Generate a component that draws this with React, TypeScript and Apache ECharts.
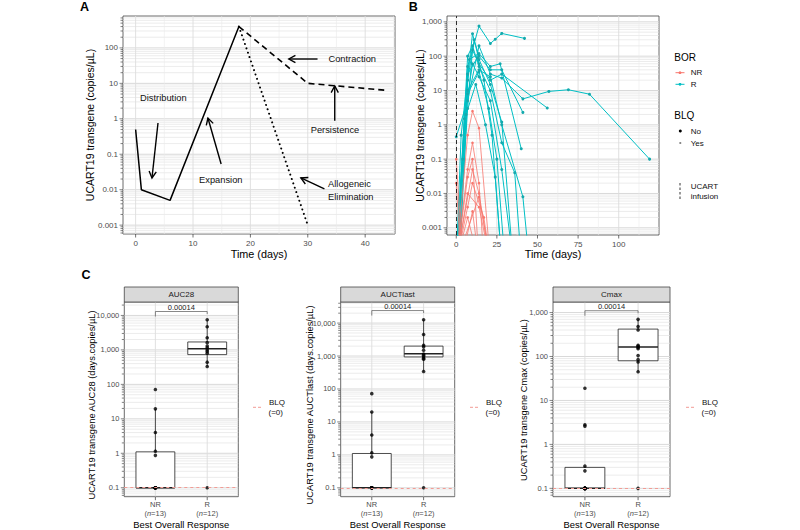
import React, { useEffect, useRef } from 'react';
import * as echarts from 'echarts';

const FONT = '"Liberation Sans", Arial, Helvetica, sans-serif';
const TEAL = '#00BFC4';
const SALMON = '#F8766D';

// ---------------- Panel A (schematic) ----------------
const schematicSolid = [[0, 0.5], [1, 0.01], [6, 0.005], [18, 400]];
const schematicDashed = [[18, 400], [30, 10], [44, 6.3]];
const schematicDotted = [[18, 400], [30, 0.001]];
// arrows: [fromX, fromY, toX, toY] in data units
const phaseArrows = [
  [3.9, 0.76, 2.85, 0.0214],
  [14.9, 0.053, 12.6, 1.05],
  [31.7, 48.6, 26.7, 48.6],
  [34.7, 0.885, 34.7, 8.4],
  [32.9, 0.0105, 28.8, 0.0214],
];
const phaseLabels = ['Distribution', 'Expansion', 'Contraction', 'Persistence', 'Allogeneic', 'Elimination'];
const xTicksA = [0, 10, 20, 30, 40];
const xMinorA = [5, 15, 25, 35, 45];
const yTicksA = [0.001, 0.01, 0.1, 1, 10, 100];
const yLabelsA = ['0.001', '0.01', '0.1', '1', '10', '100'];

// ---------------- Panel B (patients) ----------------
const B = 0.0001; // BLQ samples (below the plotted range)
const responders = [
  [[0, B], [7, 50], [14, 750], [21, 235], [24, 310], [28, 460], [42, 330]],
  [[0, B], [3, 0.5], [10, 450], [14, 80], [21, 15], [28, 1.2], [35, B]],
  [[0, 0.45], [7, 5], [14, 200], [21, 30], [28, 23], [41, 5.7], [57, 9.4], [69, 10.5], [82, 7.8], [119, 0.1]],
  [[1, B], [7, 3], [10, 150], [14, 60], [21, 20], [28, 30], [56, 3.1]],
  [[0, B], [7, 20], [11, 300], [14, 100], [21, 40], [28, 40], [41, 2.3]],
  [[0, B], [4, 0.1], [8, 80], [14, 120], [21, 50], [27, 60], [40, 0.2]],
  [[1, B], [7, 10], [14, 40], [21, 25], [28, 1], [41, 0.008], [45, B]],
  [[0, B], [5, 1.5], [10, 60], [14, 25], [21, 5], [28, 0.05], [35, B]],
  [[0, B], [7, 30], [13, 90], [17, 20], [22, 0.5], [28, B]],
  [[2, B], [7, 8], [14, 35], [20, 3], [25, 0.1], [30, B]],
  [[0, B], [6, 2], [12, 15], [18, 1], [24, 0.03], [28, B]],
  [[0, B], [7, 100], [10, 200], [14, 50], [21, 10], [28, 0.3], [36, 0.04], [40, B]],
];
const nonResponders = [
  [[0, B], [7, 0.5], [10, 2.5], [14, 0.8], [21, B]],
  [[0, B], [7, 0.05], [10, 0.3], [14, 0.02], [17, B]],
  [[0, B], [7, 0.01], [14, 0.004], [21, B]],
  [[0, 0.02], [3, B], [10, 0.003], [14, B]],
  [[0, B], [10, 0.05], [14, 0.01], [21, B]],
  [[0, B], [7, 0.002], [14, B]],
  [[0, 0.1], [4, B]],
  [[0, B], [14, 0.008], [21, B]],
  [[0, B], [7, 0.03], [10, 0.1], [14, B]],
  [[0, B], [7, 0.004], [10, 0.02], [17, 0.002], [21, B]],
  [[0, B], [7, B], [14, B], [28, B]],
  [[0, B], [7, B], [14, B], [28, B]],
  [[0, B], [7, B], [14, B], [28, B]],
];
const xTicksB = [0, 25, 50, 75, 100];
const xMinorB = [12.5, 37.5, 62.5, 87.5, 112.5];
const yTicksB = [0.001, 0.01, 0.1, 1, 10, 100, 1000];
const yLabelsB = ['0.001', '0.01', '0.1', '1', '10', '100', '1,000'];

// ---------------- Panel C (box plots) ----------------
const categories = ['NR', 'R'];
const groupN = [13, 12];
const facetNames = ['AUC28', 'AUCTlast', 'Cmax'];
const auc28NR = [71, 19.5, 4, 1.15, 0.87, 0.1, 0.1, 0.1, 0.1, 0.1, 0.1, 0.1, 0.1];
const auc28R = [7500, 4700, 2250, 1620, 1300, 1150, 1000, 900, 800, 440, 330, 0.1];
const auctlastNR = [72, 20, 4, 1.15, 0.87, 0.1, 0.1, 0.1, 0.1, 0.1, 0.1, 0.1, 0.1];
const auctlastR = [12600, 4500, 2100, 1900, 1500, 1150, 1050, 950, 850, 800, 340, 0.1];
const cmaxNR = [19, 2.8, 2.6, 0.32, 0.25, 0.1, 0.1, 0.1, 0.1, 0.1, 0.1, 0.1, 0.1];
const cmaxR = [700, 480, 400, 180, 170, 160, 150, 105, 85, 75, 45, 0.1];
// [lowerWhisker, Q1, median, Q3, upperWhisker]
const auc28Box = [[0.1, 0.1, 0.1, 1.1, 19.5], [330, 730, 1080, 1700, 7500]];
const auctlastBox = [[0.1, 0.1, 0.1, 1.1, 20], [340, 940, 1180, 2000, 12600]];
const cmaxBox = [[0.1, 0.1, 0.1, 0.3, 0.32], [45, 80, 165, 420, 700]];
const pValues = ['0.00014', '0.00014', '0.00014'];
const bracketY = [13000, 24000, 1100];
const blqValue = 0.1;
const yTicksC12 = [0.1, 1, 10, 100, 1000, 10000];
const yLabelsC12 = ['0.1', '1', '10', '100', '1,000', '10,000'];
const yTicksC3 = [0.1, 1, 10, 100, 1000];
const yLabelsC3 = ['0.1', '1', '10', '100', '1,000'];

// ---------------- helpers ----------------
function logMinors(min: number, max: number) {
  const out: number[] = [];
  for (let k = Math.floor(Math.log10(min)); k <= Math.ceil(Math.log10(max)); k++) {
    for (let m = 2; m <= 9; m++) {
      const v = m * Math.pow(10, k);
      if (v > min && v < max) out.push(v);
    }
  }
  return out;
}

function logFmt(ticks: number[], labels: string[]) {
  return (v: number) => {
    const lv = Math.log10(v);
    for (let i = 0; i < ticks.length; i++) {
      if (Math.abs(Math.log10(ticks[i]) - lv) < 1e-6) return labels[i];
    }
    return '';
  };
}

function guideSeries(idx: number, x0: number, yAny: number, hMajor: number[], hMinor: number[], vMajor: number[], vMinor: number[]) {
  const data = [
    ...hMajor.map((v) => [x0, v, 0]),
    ...hMinor.map((v) => [x0, v, 1]),
    ...vMajor.map((v) => [v, yAny, 2]),
    ...vMinor.map((v) => [v, yAny, 3]),
  ];
  return {
    type: 'custom',
    xAxisIndex: idx,
    yAxisIndex: idx,
    z: 1,
    silent: true,
    clip: false,
    data,
    renderItem: (params: any, api: any) => {
      const cs = params.coordSys;
      const kind = api.value(2);
      const p = api.coord([api.value(0), api.value(1)]);
      if (kind < 2) {
        const y = p[1];
        return {
          type: 'group',
          children: [
            { type: 'line', shape: { x1: cs.x, y1: y, x2: cs.x + cs.width, y2: y }, style: { stroke: kind === 0 ? '#d9d9d9' : '#e4e4e4', lineWidth: kind === 0 ? 1 : 0.7 } },
            { type: 'line', shape: { x1: cs.x - (kind === 0 ? 3.5 : 2.5), y1: y, x2: cs.x, y2: y }, style: { stroke: '#333', lineWidth: 0.6 } },
          ],
        };
      }
      const x = p[0];
      const bottom = cs.y + cs.height;
      const kids: any[] = [
        { type: 'line', shape: { x1: x, y1: cs.y, x2: x, y2: bottom }, style: { stroke: kind === 2 ? '#dcdcdc' : '#ebebeb', lineWidth: kind === 2 ? 0.9 : 0.6 } },
      ];
      if (kind === 2) kids.push({ type: 'line', shape: { x1: x, y1: bottom, x2: x, y2: bottom + 3.5 }, style: { stroke: '#333', lineWidth: 0.7 } });
      return { type: 'group', children: kids };
    },
  };
}

function gridBox(left: number, top: number, width: number, height: number) {
  return { left, top, width, height, show: true, borderColor: '#444', borderWidth: 0.8, backgroundColor: '#fff', containLabel: false, outerBoundsMode: 'none' };
}

function linearX(idx: number, min: number, max: number, ticks: number[]) {
  return {
    type: 'value', gridIndex: idx, min, max,
    axisLine: { show: false }, axisTick: { show: false }, splitLine: { show: false }, minorSplitLine: { show: false },
    axisLabel: { customValues: ticks, color: '#4d4d4d', fontSize: 8, margin: 5, fontFamily: FONT },
  };
}

function logY(idx: number, min: number, max: number, ticks: number[], labels: string[], fontSize: number) {
  return {
    type: 'log', logBase: 10, gridIndex: idx, min, max,
    axisLine: { show: false }, axisTick: { show: false }, splitLine: { show: false },
    axisLabel: { customValues: ticks, formatter: logFmt(ticks, labels), color: '#4d4d4d', fontSize, margin: 5, fontFamily: FONT },
  };
}

function catX(idx: number) {
  return {
    type: 'value', gridIndex: idx, min: 0.4, max: 2.6,
    axisLine: { show: false }, axisTick: { show: false }, splitLine: { show: false },
    axisLabel: {
      customValues: [1, 2],
      formatter: (v: number) => {
        const i = Math.round(v) - 1;
        return `${categories[i]}\n({it|n}=${groupN[i]})`;
      },
      color: '#4d4d4d', fontSize: 7.5, lineHeight: 8.5, margin: 4, fontFamily: FONT,
      rich: { it: { fontStyle: 'italic', fontSize: 7.5, lineHeight: 8.5, color: '#4d4d4d', fontFamily: FONT } },
    },
  };
}

function boxSeries(idx: number, boxes: number[][]) {
  return {
    type: 'custom', xAxisIndex: idx, yAxisIndex: idx, z: 2, silent: true, clip: false,
    data: boxes.map((b, i) => [i + 1, ...b]),
    renderItem: (params: any, api: any) => {
      const x = api.value(0);
      const v = [1, 2, 3, 4, 5].map((d) => api.value(d));
      const c = v.map((val) => api.coord([x, val]));
      const xl = api.coord([x - 0.375, v[1]])[0];
      const xr = api.coord([x + 0.375, v[1]])[0];
      const xc = c[0][0];
      const st = { stroke: '#222', lineWidth: 0.8, fill: 'none' };
      return {
        type: 'group',
        children: [
          { type: 'line', shape: { x1: xc, y1: c[0][1], x2: xc, y2: c[1][1] }, style: st },
          { type: 'line', shape: { x1: xc, y1: c[3][1], x2: xc, y2: c[4][1] }, style: st },
          { type: 'rect', shape: { x: xl, y: c[3][1], width: xr - xl, height: c[1][1] - c[3][1] }, style: { stroke: '#222', lineWidth: 0.8, fill: '#fff' } },
          { type: 'line', shape: { x1: xl, y1: c[2][1], x2: xr, y2: c[2][1] }, style: { stroke: '#222', lineWidth: 1.5 } },
        ],
      };
    },
  };
}

function pointsSeries(idx: number, nr: number[], r: number[]) {
  return {
    type: 'scatter', xAxisIndex: idx, yAxisIndex: idx, z: 4, silent: true,
    symbol: 'circle', symbolSize: 3.6, itemStyle: { color: '#000' },
    data: [...nr.map((v) => [1, v]), ...r.map((v) => [2, v])],
    markLine: {
      silent: true, symbol: ['none', 'none'], label: { show: false },
      lineStyle: { color: '#f29c95', type: [3, 3], width: 1 },
      data: [{ yAxis: blqValue }],
    },
  };
}

function bracketSeries(idx: number, y: number, label: string) {
  return {
    type: 'custom', xAxisIndex: idx, yAxisIndex: idx, z: 3, silent: true, clip: false,
    data: [[1, y, 2]],
    renderItem: (params: any, api: any) => {
      const p1 = api.coord([api.value(0), api.value(1)]);
      const p2 = api.coord([api.value(2), api.value(1)]);
      return {
        type: 'group',
        children: [
          { type: 'polyline', shape: { points: [[p1[0], p1[1] + 5], [p1[0], p1[1]], [p2[0], p2[1]], [p2[0], p2[1] + 2.5]] }, style: { stroke: '#555', lineWidth: 0.7, fill: 'none' } },
          { type: 'text', x: (p1[0] + p2[0]) / 2, y: p1[1] - 0.5, style: { text: label, fontSize: 7.5, fill: '#222', align: 'center', verticalAlign: 'bottom', fontFamily: FONT } },
        ],
      };
    },
  };
}

const txt = (text: string, x: number, y: number, style: any = {}, rotation = 0) => ({
  type: 'text', x, y, rotation, silent: true, z: 10,
  style: { text, fontFamily: FONT, fontSize: 9, fill: '#111', align: 'center', verticalAlign: 'middle', ...style },
});
const seg = (x1: number, y1: number, x2: number, y2: number, stroke: string, lineWidth = 1, lineDash?: number[]) => ({
  type: 'line', silent: true, z: 10, shape: { x1, y1, x2, y2 }, style: { stroke, lineWidth, lineDash },
});

export default function App() {
  const ref = useRef<HTMLDivElement>(null);
  useEffect(() => {
    if (!ref.current) return;
    const chart = echarts.init(ref.current, undefined, { renderer: 'svg' });

    const yA: [number, number] = [Math.pow(10, -3.25), Math.pow(10, 2.9)];
    const yB: [number, number] = [Math.pow(10, -3.21), Math.pow(10, 3.17)];
    const yC1: [number, number] = [Math.pow(10, -1.26), Math.pow(10, 4.39)];
    const yC2: [number, number] = [Math.pow(10, -1.27), Math.pow(10, 4.64)];
    const yC3: [number, number] = [Math.pow(10, -1.19), Math.pow(10, 3.24)];

    const series: any[] = [
      guideSeries(0, -2.2, 1, yTicksA, logMinors(yA[0], yA[1]), xTicksA, xMinorA),
      guideSeries(1, -5.7, 1, yTicksB, logMinors(yB[0], yB[1]), xTicksB, xMinorB),
      guideSeries(2, 0.4, 1, yTicksC12, logMinors(yC1[0], yC1[1]), [1, 2], []),
      guideSeries(3, 0.4, 1, yTicksC12, logMinors(yC2[0], yC2[1]), [1, 2], []),
      guideSeries(4, 0.4, 1, yTicksC3, logMinors(yC3[0], yC3[1]), [1, 2], []),
      // Panel A
      { type: 'line', xAxisIndex: 0, yAxisIndex: 0, data: schematicSolid, symbol: 'none', z: 3, lineStyle: { color: '#000', width: 1.5 } },
      { type: 'line', xAxisIndex: 0, yAxisIndex: 0, data: schematicDashed, symbol: 'none', z: 3, lineStyle: { color: '#000', width: 1.6, type: [6, 4] } },
      { type: 'line', xAxisIndex: 0, yAxisIndex: 0, data: schematicDotted, symbol: 'none', z: 3, lineStyle: { color: '#000', width: 2, type: [0.01, 4.6], cap: 'round' } },
      {
        type: 'custom', xAxisIndex: 0, yAxisIndex: 0, z: 4, silent: true, clip: false,
        data: phaseArrows,
        renderItem: (params: any, api: any) => {
          const p1 = api.coord([api.value(0), api.value(1)]);
          const p2 = api.coord([api.value(2), api.value(3)]);
          const a = Math.atan2(p2[1] - p1[1], p2[0] - p1[0]);
          const L = 7.5;
          const h1 = [p2[0] - L * Math.cos(a - 0.5), p2[1] - L * Math.sin(a - 0.5)];
          const h2 = [p2[0] - L * Math.cos(a + 0.5), p2[1] - L * Math.sin(a + 0.5)];
          return {
            type: 'group',
            children: [
              { type: 'line', shape: { x1: p1[0], y1: p1[1], x2: p2[0], y2: p2[1] }, style: { stroke: '#000', lineWidth: 1.4 } },
              { type: 'polyline', shape: { points: [h1, p2, h2] }, style: { stroke: '#000', lineWidth: 1.4, fill: 'none' } },
            ],
          };
        },
      },
    ];

    // Panel B patient lines
    responders.forEach((pts, i) => {
      const s: any = {
        type: 'line', xAxisIndex: 1, yAxisIndex: 1, data: pts, z: 3, clip: true,
        symbol: 'circle', symbolSize: 3, showSymbol: true,
        lineStyle: { color: TEAL, width: 1 }, itemStyle: { color: '#14a9ad' },
      };
      if (i === 0) {
        s.markLine = {
          silent: true, symbol: ['none', 'none'], label: { show: false },
          lineStyle: { color: '#000', type: [4, 3], width: 0.8 },
          data: [{ xAxis: 0 }],
        };
      }
      series.push(s);
    });
    nonResponders.forEach((pts) => {
      series.push({
        type: 'line', xAxisIndex: 1, yAxisIndex: 1, data: pts, z: 4, clip: true,
        symbol: 'circle', symbolSize: 2.6, showSymbol: true,
        lineStyle: { color: SALMON, width: 0.8 }, itemStyle: { color: SALMON },
      });
    });

    // Panel C
    const boxes = [auc28Box, auctlastBox, cmaxBox];
    const pts = [[auc28NR, auc28R], [auctlastNR, auctlastR], [cmaxNR, cmaxR]];
    for (let f = 0; f < 3; f++) {
      series.push(boxSeries(2 + f, boxes[f]));
      series.push(pointsSeries(2 + f, pts[f][0], pts[f][1]));
      series.push(bracketSeries(2 + f, bracketY[f], pValues[f]));
    }

    const strips = [
      { x: 124.3, w: 114 },
      { x: 340.7, w: 114 },
      { x: 553, w: 117 },
    ];

    const graphic: any[] = [
      txt('A', 84.5, 7, { fontSize: 12.5, fontWeight: 'bold', fill: '#000' }),
      txt('B', 413.3, 7, { fontSize: 12.5, fontWeight: 'bold', fill: '#000' }),
      txt('C', 86, 275, { fontSize: 12.5, fontWeight: 'bold', fill: '#000' }),
      txt('UCART19 transgene (copies/µL)', 90, 125, { fontSize: 10.5, fill: '#000' }, Math.PI / 2),
      txt('Time (days)', 259, 253.5, { fontSize: 10.8, fill: '#000' }),
      txt('UCART19 transgene (copies/µL)', 420, 125.5, { fontSize: 10.5, fill: '#000' }, Math.PI / 2),
      txt('Time (days)', 553, 253.5, { fontSize: 10.8, fill: '#000' }),
      // phase labels in panel A
      txt(phaseLabels[0], 163.3, 98.3, { fontSize: 9.3, fill: '#111' }),
      txt(phaseLabels[1], 220.8, 180, { fontSize: 9.3, fill: '#111' }),
      txt(phaseLabels[2], 352.2, 59, { fontSize: 9.3, fill: '#111' }),
      txt(phaseLabels[3], 335, 130, { fontSize: 9.3, fill: '#111' }),
      txt(phaseLabels[4], 349.5, 184.3, { fontSize: 9.3, fill: '#111' }),
      txt(phaseLabels[5], 350.8, 196.7, { fontSize: 9.3, fill: '#111' }),
      // legend B
      txt('BOR', 674.3, 57, { fontSize: 10, align: 'left', fill: '#000' }),
      seg(675.5, 72.7, 684.5, 72.7, SALMON, 1),
      { type: 'circle', silent: true, z: 10, shape: { cx: 680, cy: 72.7, r: 1.4 }, style: { fill: SALMON } },
      txt('NR', 690.7, 72.7, { fontSize: 8, align: 'left' }),
      seg(675.5, 84.3, 684.5, 84.3, TEAL, 1),
      { type: 'circle', silent: true, z: 10, shape: { cx: 680, cy: 84.3, r: 1.4 }, style: { fill: TEAL } },
      txt('R', 690.7, 84.3, { fontSize: 8, align: 'left' }),
      txt('BLQ', 674.3, 115.7, { fontSize: 10, align: 'left', fill: '#000' }),
      { type: 'circle', silent: true, z: 10, shape: { cx: 680.3, cy: 131, r: 1.5 }, style: { fill: '#000' } },
      txt('No', 690.7, 131, { fontSize: 8, align: 'left' }),
      { type: 'circle', silent: true, z: 10, shape: { cx: 680.3, cy: 143, r: 1.1 }, style: { fill: '#888' } },
      txt('Yes', 690.7, 143, { fontSize: 8, align: 'left' }),
      seg(680, 183, 680, 199, '#000', 0.8, [2.5, 2]),
      txt('UCART', 690.7, 186.7, { fontSize: 8, align: 'left' }),
      txt('infusion', 690.7, 196, { fontSize: 8, align: 'left' }),
    ];

    const cTitles = ['UCART19 transgene AUC28 (days.copies/µL)', 'UCART19 transgene AUCTlast (days.copies/µL)', 'UCART19 transgene Cmax (copies/µL)'];
    const cTitleX = [92, 310, 524];
    const cTitleY = [405, 405, 400];
    const legendDashX = [253, 470, 686];
    strips.forEach((s, f) => {
      graphic.push({ type: 'rect', silent: true, z: 9, shape: { x: s.x, y: 287, width: s.w, height: 15 }, style: { fill: '#d9d9d9', stroke: '#444', lineWidth: 0.8 } });
      graphic.push(txt(facetNames[f], s.x + s.w / 2, 294.5, { fontSize: 8, fill: '#1a1a1a' }));
      graphic.push(txt(cTitles[f], cTitleX[f], cTitleY[f], { fontSize: 9.3, fill: '#000' }, Math.PI / 2));
      graphic.push(txt('Best Overall Response', s.x + s.w / 2, 524, { fontSize: 9.4, fill: '#000' }));
      graphic.push(seg(legendDashX[f], 407.3, legendDashX[f] + 9, 407.3, '#f29c95', 1, [3, 2]));
      graphic.push(txt('BLQ', legendDashX[f] + 16, 402.7, { fontSize: 8, align: 'left' }));
      graphic.push(txt('(=0)', legendDashX[f] + 15.5, 412.7, { fontSize: 8, align: 'left' }));
    });

    const option: any = {
      animation: false,
      backgroundColor: '#fff',
      textStyle: { fontFamily: FONT },
      grid: [
        gridBox(123, 16, 272, 218),
        gridBox(447, 16, 212, 219),
        gridBox(124.3, 302, 114, 194.7),
        gridBox(340.7, 302, 114, 194.7),
        gridBox(553, 302, 117, 194.7),
      ],
      xAxis: [
        linearX(0, -2.2, 45.2, xTicksA),
        linearX(1, -5.7, 124.8, xTicksB),
        catX(2),
        catX(3),
        catX(4),
      ],
      yAxis: [
        logY(0, yA[0], yA[1], yTicksA, yLabelsA, 8),
        logY(1, yB[0], yB[1], yTicksB, yLabelsB, 8),
        logY(2, yC1[0], yC1[1], yTicksC12, yLabelsC12, 7.5),
        logY(3, yC2[0], yC2[1], yTicksC12, yLabelsC12, 7.5),
        logY(4, yC3[0], yC3[1], yTicksC3, yLabelsC3, 7.5),
      ],
      series,
      graphic,
    };
    chart.setOption(option);
    return () => chart.dispose();
  }, []);
  return <div ref={ref} style={{ position: 'absolute', left: 0, top: 0, width: 800, height: 530 }} />;
}
